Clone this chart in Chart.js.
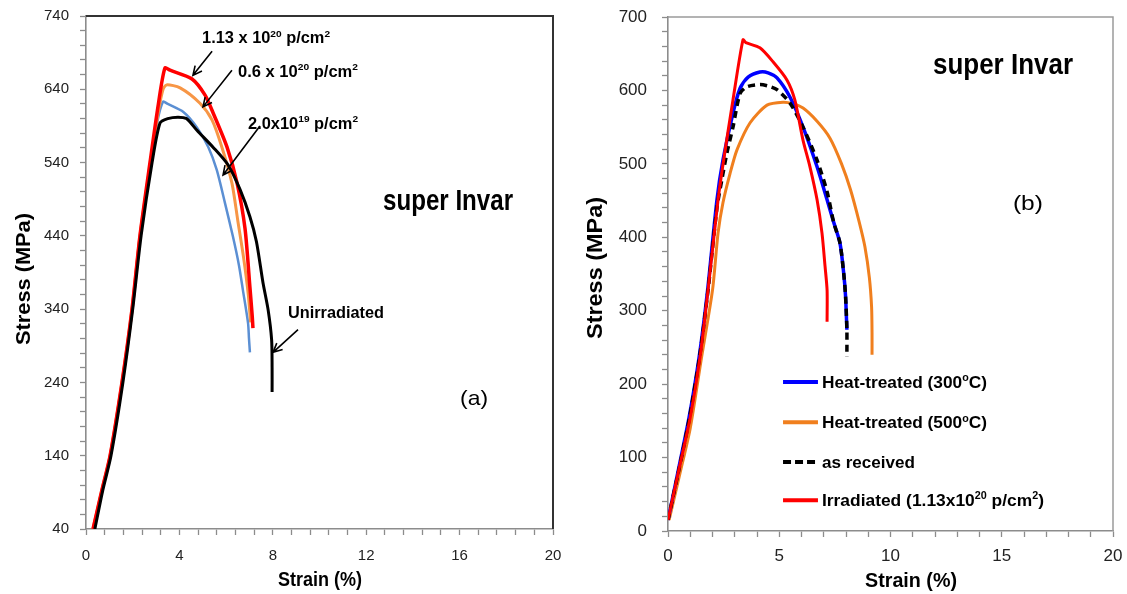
<!DOCTYPE html>
<html>
<head>
<meta charset="utf-8">
<script src="https://cdn.jsdelivr.net/npm/chart.js@4.4.1/dist/chart.umd.min.js"></script>
<style>
html, body { margin: 0; padding: 0; background: #fff; }
#wrap { position: relative; width: 1127px; height: 594px; }
canvas { position: absolute; top: 0; }
#ca { left: 0; }
#cb { left: 563px; }
</style>
</head>
<body>
<div id="wrap">
  <canvas id="ca" width="563" height="594"></canvas>
  <canvas id="cb" width="564" height="594"></canvas>
</div>
<script>
// ---- (a) unirradiated vs. proton dose  (strain %, stress MPa)
const unirrX = [0.38, 0.72, 1.07, 1.58, 2.0, 2.36, 2.83, 3.17, 3.5, 3.94, 4.3, 4.75, 5.44, 6.08, 6.6, 7.02, 7.3, 7.58, 7.8, 7.95, 7.97, 7.97];
const unirrY = [40, 93, 140, 240, 340, 440, 540, 594, 600, 602, 600, 584, 561, 537, 503, 466, 432, 376, 339, 298, 260, 227];
const dose3X = [0.3, 0.68, 1.03, 1.54, 1.97, 2.31, 2.74, 3.1, 3.38, 3.6, 4.54, 5.1, 5.44, 6.04, 6.47, 6.81, 7.02, 7.12, 7.15];
const dose3Y = [40, 93, 140, 240, 340, 440, 540, 620, 669, 666, 654, 632, 608, 561, 512, 450, 370, 330, 314];
const dose2X = [0.3, 0.68, 1.03, 1.54, 1.97, 2.31, 2.76, 3.1, 3.3, 3.45, 4.03, 4.88, 5.4, 5.82, 6.25, 6.5, 6.75, 6.95, 7.05];
const dose2Y = [40, 93, 140, 240, 340, 440, 540, 610, 640, 646, 642, 621, 598, 561, 512, 461, 410, 360, 322];
const dose1X = [0.3, 0.68, 1.03, 1.54, 1.97, 2.31, 2.78, 3.05, 3.3, 3.5, 4.17, 4.75, 5.24, 5.6, 5.95, 6.3, 6.55, 6.72, 6.94, 6.98, 7.02];
const dose1Y = [40, 93, 140, 240, 340, 440, 540, 595, 623, 620, 609, 588, 561, 530, 485, 438, 400, 366, 321, 300, 281];

// ---- (b) heat treatment vs. irradiation
const irrX = [0, 0.5, 1.0, 1.44, 1.8, 2.25, 2.5, 2.92, 3.37, 3.5, 4.13, 4.72, 5.35, 5.7, 6.07, 6.38, 6.7, 6.92, 7.06, 7.15, 7.15];
const irrY = [15, 85, 155, 237, 328, 451, 505, 587, 669, 665, 658, 639, 614, 587, 532, 496, 451, 406, 360, 328, 285];
const ht300X = [0, 0.5, 0.95, 1.4, 1.78, 2.2, 2.47, 2.92, 3.24, 3.6, 4.13, 4.5, 4.9, 5.48, 6.07, 6.7, 7.15, 7.45, 7.73, 7.9, 7.98, 8.04];
const ht300Y = [15, 88, 155, 237, 328, 451, 505, 569, 603, 618, 625, 624, 617, 591, 550, 496, 451, 420, 392, 350, 320, 274];
const asRecX = [0, 0.52, 0.97, 1.42, 1.8, 2.2, 2.43, 2.65, 2.92, 3.24, 3.55, 4.13, 4.5, 4.9, 5.48, 6.07, 6.7, 7.15, 7.45, 7.73, 7.9, 7.98, 8.04, 8.04];
const asRecY = [15, 88, 155, 237, 328, 440, 480, 515, 550, 596, 605, 608, 606, 601, 583, 550, 505, 462, 420, 392, 350, 320, 274, 237];
const ht500X = [0.05, 0.55, 1.0, 1.5, 2.0, 2.25, 2.47, 2.79, 3.1, 3.69, 4.45, 5.17, 5.6, 6.07, 6.7, 7.28, 7.8, 8.2, 8.6, 8.85, 9.05, 9.15, 9.17, 9.17];
const ht500Y = [15, 80, 140, 235, 328, 406, 447, 487, 519, 556, 580, 584, 582, 576, 558, 535, 500, 465, 420, 387, 345, 305, 270, 240];

// axis ranges / ticks
const xMin = 0, xMax = 20;
const yMinA = 40, yMaxA = 740;
const yMinB = 0, yMaxB = 700;

const FAM = "'Liberation Sans', Arial, sans-serif";
Chart.defaults.font.family = FAM;

function pts(xs, ys) {
  return xs.map((x, i) => ({ x: x, y: ys[i] }));
}
function isMult(v, m) {
  return Math.abs(v / m - Math.round(v / m)) < 1e-6;
}

// text with superscripts, squeezed/stretched to a target width
// parts: [[text, sup?], ...]; y = middle of caps
function drawParts(ctx, parts, x, y, size, bold, targetW, align, rotate) {
  const fnt = s => (bold ? 'bold ' : '') + s + 'px ' + FAM;
  let total = 0;
  parts.forEach(p => {
    ctx.font = fnt(p[1] ? size * 0.62 : size);
    total += ctx.measureText(p[0]).width;
  });
  const sx = targetW ? targetW / total : 1;
  ctx.save();
  ctx.translate(x, y);
  if (rotate) ctx.rotate(-Math.PI / 2);
  ctx.scale(sx, 1);
  let cx = align === 'center' ? -total / 2 : 0;
  ctx.fillStyle = '#000';
  ctx.textBaseline = 'alphabetic';
  ctx.textAlign = 'left';
  parts.forEach(p => {
    ctx.font = fnt(p[1] ? size * 0.62 : size);
    const by = size * 0.358 - (p[1] ? size * 0.4 : 0);
    ctx.fillText(p[0], cx, by);
    cx += ctx.measureText(p[0]).width;
  });
  ctx.restore();
}

function arrow(ctx, x1, y1, x2, y2) {
  const a = Math.atan2(y2 - y1, x2 - x1);
  const L = 10, s = 0.45;
  ctx.save();
  ctx.strokeStyle = '#000';
  ctx.lineWidth = 1.6;
  ctx.beginPath();
  ctx.moveTo(x1, y1);
  ctx.lineTo(x2, y2);
  ctx.moveTo(x2 - L * Math.cos(a - s), y2 - L * Math.sin(a - s));
  ctx.lineTo(x2, y2);
  ctx.lineTo(x2 - L * Math.cos(a + s), y2 - L * Math.sin(a + s));
  ctx.stroke();
  ctx.restore();
}

// notes plugin: labels / arrows in data coords, titles in canvas px, frame, legend
function notesPlugin(cfg) {
  return {
    id: 'notes',
    afterDraw(chart) {
      const ctx = chart.ctx, xs = chart.scales.x, ys = chart.scales.y, ca = chart.chartArea;
      const px = v => xs.getPixelForValue(v), py = v => ys.getPixelForValue(v);
      // frame top/right
      ctx.save();
      ctx.strokeStyle = cfg.frameColor;
      ctx.lineWidth = cfg.frameWidth;
      ctx.beginPath();
      ctx.moveTo(ca.left, ca.top);
      ctx.lineTo(ca.right, ca.top);
      ctx.lineTo(ca.right, ca.bottom);
      ctx.stroke();
      ctx.restore();
      (cfg.arrows || []).forEach(a => arrow(ctx, px(a[0]), py(a[1]), px(a[2]), py(a[3])));
      (cfg.labels || []).forEach(l => drawParts(ctx, l.parts, px(l.x), py(l.y), l.size, l.bold, l.w, 'left', false));
      (cfg.titles || []).forEach(t => drawParts(ctx, t.parts, t.x, t.y, t.size, true, t.w, 'center', t.rot));
      (cfg.legend || []).forEach(it => {
        const ds = chart.data.datasets[it.ds];
        ctx.save();
        ctx.strokeStyle = ds.borderColor;
        ctx.lineWidth = 4;
        ctx.setLineDash(ds.borderDash ? [8, 4] : []);
        ctx.beginPath();
        ctx.moveTo(px(it.x0), py(it.y));
        ctx.lineTo(px(it.x1), py(it.y));
        ctx.stroke();
        ctx.restore();
        drawParts(ctx, it.parts, px(it.tx), py(it.y), it.size, true, it.w, 'left', false);
      });
    }
  };
}

function axes(yMin, yMax, xLabelStep, xStep, tickFont, yW, xH, yPad, xPad) {
  return {
    x: {
      type: 'linear', min: xMin, max: xMax,
      ticks: { stepSize: xStep, autoSkip: false, maxRotation: 0, color: '#222', font: { size: tickFont }, padding: xPad,
        callback: v => isMult(v, xLabelStep) ? String(Math.round(v)) : '' },
      grid: { drawOnChartArea: false, tickLength: 6, tickColor: '#8c8c8c', tickWidth: 1.3 },
      border: { color: '#8c8c8c', width: 1.6 },
      afterFit: s => { s.height = xH; s.paddingLeft = 0; s.paddingRight = 0; }
    },
    y: {
      type: 'linear', min: yMin, max: yMax,
      ticks: { stepSize: 20, autoSkip: false, color: '#222', font: { size: tickFont }, padding: yPad,
        callback: v => isMult(v - yMin, 100) ? String(v) : '' },
      grid: { drawOnChartArea: false, tickLength: 6, tickColor: '#8c8c8c', tickWidth: 1.3 },
      border: { color: '#8c8c8c', width: 1.6 },
      afterFit: s => { s.width = yW; s.paddingTop = 0; s.paddingBottom = 0; }
    }
  };
}

function line(label, xs, ys, color, width, dash) {
  return {
    label: label, data: pts(xs, ys), borderColor: color, backgroundColor: color,
    borderWidth: width, borderDash: dash || undefined, pointRadius: 0, tension: 0.25, fill: false
  };
}

const sup = t => [t, true];
const txt = t => [t, false];

new Chart(document.getElementById('ca'), {
  type: 'line',
  data: {
    datasets: [
      line('Unirradiated', unirrX, unirrY, '#000000', 3),
      line('1.13 x 10^20 p/cm^2', dose3X, dose3Y, '#ff0000', 3.5),
      line('0.6 x 10^20 p/cm^2', dose2X, dose2Y, '#f79646', 3),
      line('2.0x10^19 p/cm^2', dose1X, dose1Y, '#5b8fd3', 2.5)
    ]
  },
  options: {
    responsive: false, animation: false,
    layout: { padding: { top: 16, right: 10, left: 0, bottom: 0 } },
    plugins: { legend: { display: false }, tooltip: { enabled: false } },
    scales: axes(yMinA, yMaxA, 4, 0.8, 15, 86, 65, 11, 12)
  },
  plugins: [notesPlugin({
    frameColor: '#333', frameWidth: 2,
    arrows: [[5.4, 692, 4.58, 659], [6.25, 666, 5.01, 616], [7.45, 590, 5.87, 523], [9.08, 312, 8.01, 281]],
    labels: [
      { x: 4.97, y: 711, size: 16, bold: true, w: 128, parts: [txt('1.13 x 10'), sup('20'), txt(' p/cm'), sup('2')] },
      { x: 6.51, y: 665, size: 16, bold: true, w: 120, parts: [txt('0.6 x 10'), sup('20'), txt(' p/cm'), sup('2')] },
      { x: 6.94, y: 594, size: 16, bold: true, w: 110, parts: [txt('2.0x10'), sup('19'), txt(' p/cm'), sup('2')] },
      { x: 8.65, y: 336, size: 16, bold: true, w: 96, parts: [txt('Unirradiated')] },
      { x: 12.72, y: 489, size: 29, bold: true, w: 130, parts: [txt('super Invar')] },
      { x: 16.02, y: 219, size: 21, bold: false, w: 28, parts: [txt('(a)')] }
    ],
    titles: [
      { x: 22, y: 279, size: 21, w: 132, rot: true, parts: [txt('Stress (MPa)')] },
      { x: 320, y: 579, size: 20, w: 84, rot: false, parts: [txt('Strain (%)')] }
    ]
  })]
});

new Chart(document.getElementById('cb'), {
  type: 'line',
  data: {
    datasets: [
      line('Irradiated (1.13x10^20 p/cm^2)', irrX, irrY, '#ff0000', 3),
      line('as received', asRecX, asRecY, '#000000', 3.5, [7, 5]),
      line('Heat-treated (300oC)', ht300X, ht300Y, '#0000ff', 3.5),
      line('Heat-treated (500oC)', ht500X, ht500Y, '#f07f1e', 3)
    ]
  },
  options: {
    responsive: false, animation: false,
    layout: { padding: { top: 17, right: 14, left: 0, bottom: 0 } },
    plugins: { legend: { display: false }, tooltip: { enabled: false } },
    scales: axes(yMinB, yMaxB, 5, 1, 17, 105, 63, 15, 9)
  },
  plugins: [notesPlugin({
    frameColor: '#9a9a9a', frameWidth: 1.5,
    labels: [
      { x: 11.91, y: 637, size: 30, bold: true, w: 140, parts: [txt('super Invar')] },
      { x: 15.5, y: 448, size: 21, bold: false, w: 30, parts: [txt('(b)')] }
    ],
    legend: [
      { ds: 2, y: 203, x0: 5.17, x1: 6.74, tx: 6.92, size: 17, w: 165, parts: [txt('Heat-treated (300'), sup('o'), txt('C)')] },
      { ds: 3, y: 148, x0: 5.17, x1: 6.74, tx: 6.92, size: 17, w: 165, parts: [txt('Heat-treated (500'), sup('o'), txt('C)')] },
      { ds: 1, y: 94, x0: 5.17, x1: 6.74, tx: 6.92, size: 17, w: 93, parts: [txt('as received')] },
      { ds: 0, y: 42, x0: 5.17, x1: 6.74, tx: 6.92, size: 17, w: 222, parts: [txt('Irradiated (1.13x10'), sup('20'), txt(' p/cm'), sup('2'), txt(')')] }
    ],
    titles: [
      { x: 31, y: 268, size: 22, w: 142, rot: true, parts: [txt('Stress (MPa)')] },
      { x: 348, y: 579, size: 21, w: 92, rot: false, parts: [txt('Strain (%)')] }
    ]
  })]
});
</script>
</body>
</html>
